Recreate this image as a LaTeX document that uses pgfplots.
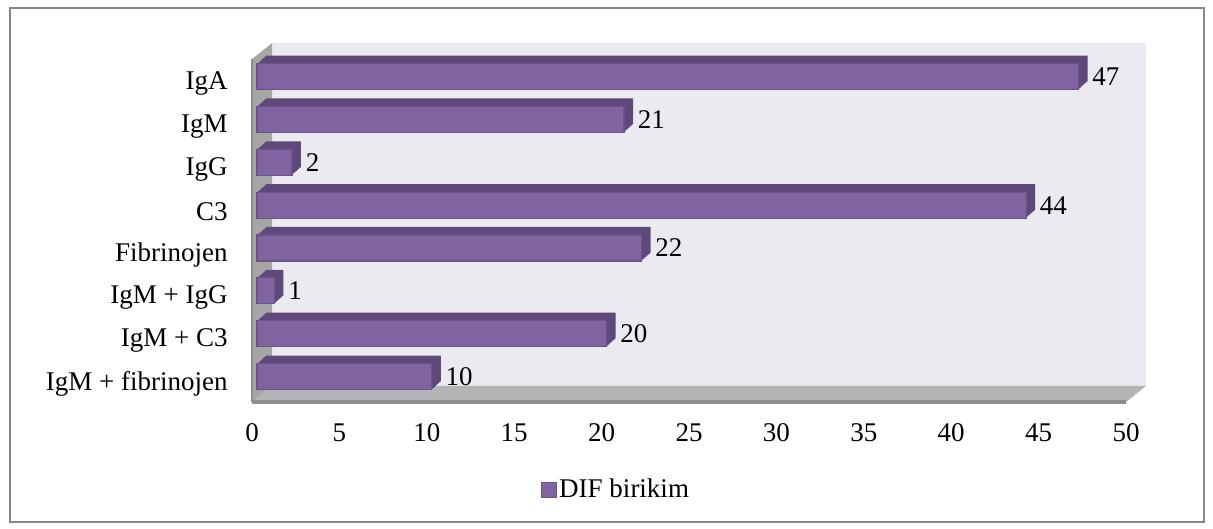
\documentclass[border=0pt]{standalone}
\usepackage{pgfplots}
\pgfplotsset{compat=1.18}
\usepackage{pgfplotstable}
\usepackage{fontspec}
\setmainfont{Liberation Serif}
\definecolor{barfront}{HTML}{8064A2}
\definecolor{bardark}{HTML}{5F497A}
\definecolor{baredge}{HTML}{6B5389}
\definecolor{wallc}{HTML}{ECEAF1}
\definecolor{floorc}{HTML}{B4B4B6}
\definecolor{flooredge}{HTML}{8E8E90}
\definecolor{sidec}{HTML}{A6A6A6}
\definecolor{framec}{HTML}{888888}

\pgfplotstableread{
y x
8 47
7 21
6 2
5 44
4 22
3 1
2 20
1 10
}\datatable

\begin{document}
\begin{tikzpicture}[font=\fontsize{13.5bp}{16bp}\selectfont]
\begin{axis}[
  set layers,
  scale only axis, width=437bp, height=171.45bp,
  xmin=0, xmax=50, ymin=0.5, ymax=8.5,
  xtick={0,5,...,50}, ytick={1,...,8},
  yticklabels={IgM + fibrinojen, IgM + C3, IgM + IgG, Fibrinojen, C3, IgG, IgM, IgA},
  axis line style={draw=none}, major tick length=0pt,
  clip=false,
  xticklabel style={anchor=center, yshift=-15.5bp},
  yticklabel style={anchor=east, inner sep=0pt, xshift=-12bp, yshift=-1.5bp},
  /pgf/number format/assume math mode=true,
  legend style={at={(rel axis cs:0.4165,-0.2566)}, anchor=center, draw=none, fill=none, inner sep=0pt, nodes={inner sep=1bp}},
]
\begin{pgfonlayer}{axis background}
\fill[wallc] ([shift={(10bp,8bp)}]axis cs:0,0.5) rectangle ([shift={(10bp,8bp)}]axis cs:50,8.5);
\fill[sidec] (axis cs:0,0.5) -- (axis cs:0,8.5) -- ([shift={(10bp,8bp)}]axis cs:0,8.5) -- ([shift={(10bp,8bp)}]axis cs:0,0.5) -- cycle;
\draw[flooredge, line width=0.8bp] (axis cs:0,0.5) -- (axis cs:0,8.5);
\fill[floorc] (axis cs:0,0.5) -- (axis cs:50,0.5) -- ([shift={(10bp,8bp)}]axis cs:50,0.5) -- ([shift={(10bp,8bp)}]axis cs:0,0.5) -- cycle;
\draw[flooredge, line width=1.6bp] (axis cs:0,0.5) -- (axis cs:50,0.5);
\end{pgfonlayer}
\coordinate (O) at (axis cs:0,0.5);
\pgfplotsinvokeforeach{9,8,...,1}{
  \addplot[xbar, bar shift=0pt, bar width=13bp, fill=bardark, draw=none, forget plot, xshift=2.5bp+#1*0.5bp, yshift=2bp+#1*0.444bp] table[x=x,y=y]{\datatable};
}
\addplot[xbar, bar shift=0pt, bar width=13bp, fill=barfront, draw=baredge, line width=0.6bp, forget plot, xshift=2.5bp, yshift=2bp] table[x=x,y=y]{\datatable};
\addplot[xbar, bar shift=0pt, bar width=13bp, draw=none, fill=none, forget plot, nodes near coords, nodes near coords align={horizontal},
  nodes near coords style={anchor=west, inner sep=0pt, xshift=9.2bp, yshift=2bp}] table[x=x,y=y]{\datatable};
\addlegendimage{legend image code/.code={\draw[fill=barfront, draw=baredge, line width=0.6bp] (0bp,-3.75bp) rectangle (7.5bp,3.75bp);}}
\addlegendentry{DIF birikim}
\end{axis}
\draw[framec, line width=0.6bp] ([shift={(-121bp,197bp)}]O) rectangle ([shift={(476bp,-60bp)}]O);
\pgfresetboundingbox
\useasboundingbox ([shift={(-126bp,201bp)}]O) rectangle ([shift={(480.5bp,-63.5bp)}]O);
\end{tikzpicture}
\end{document}
